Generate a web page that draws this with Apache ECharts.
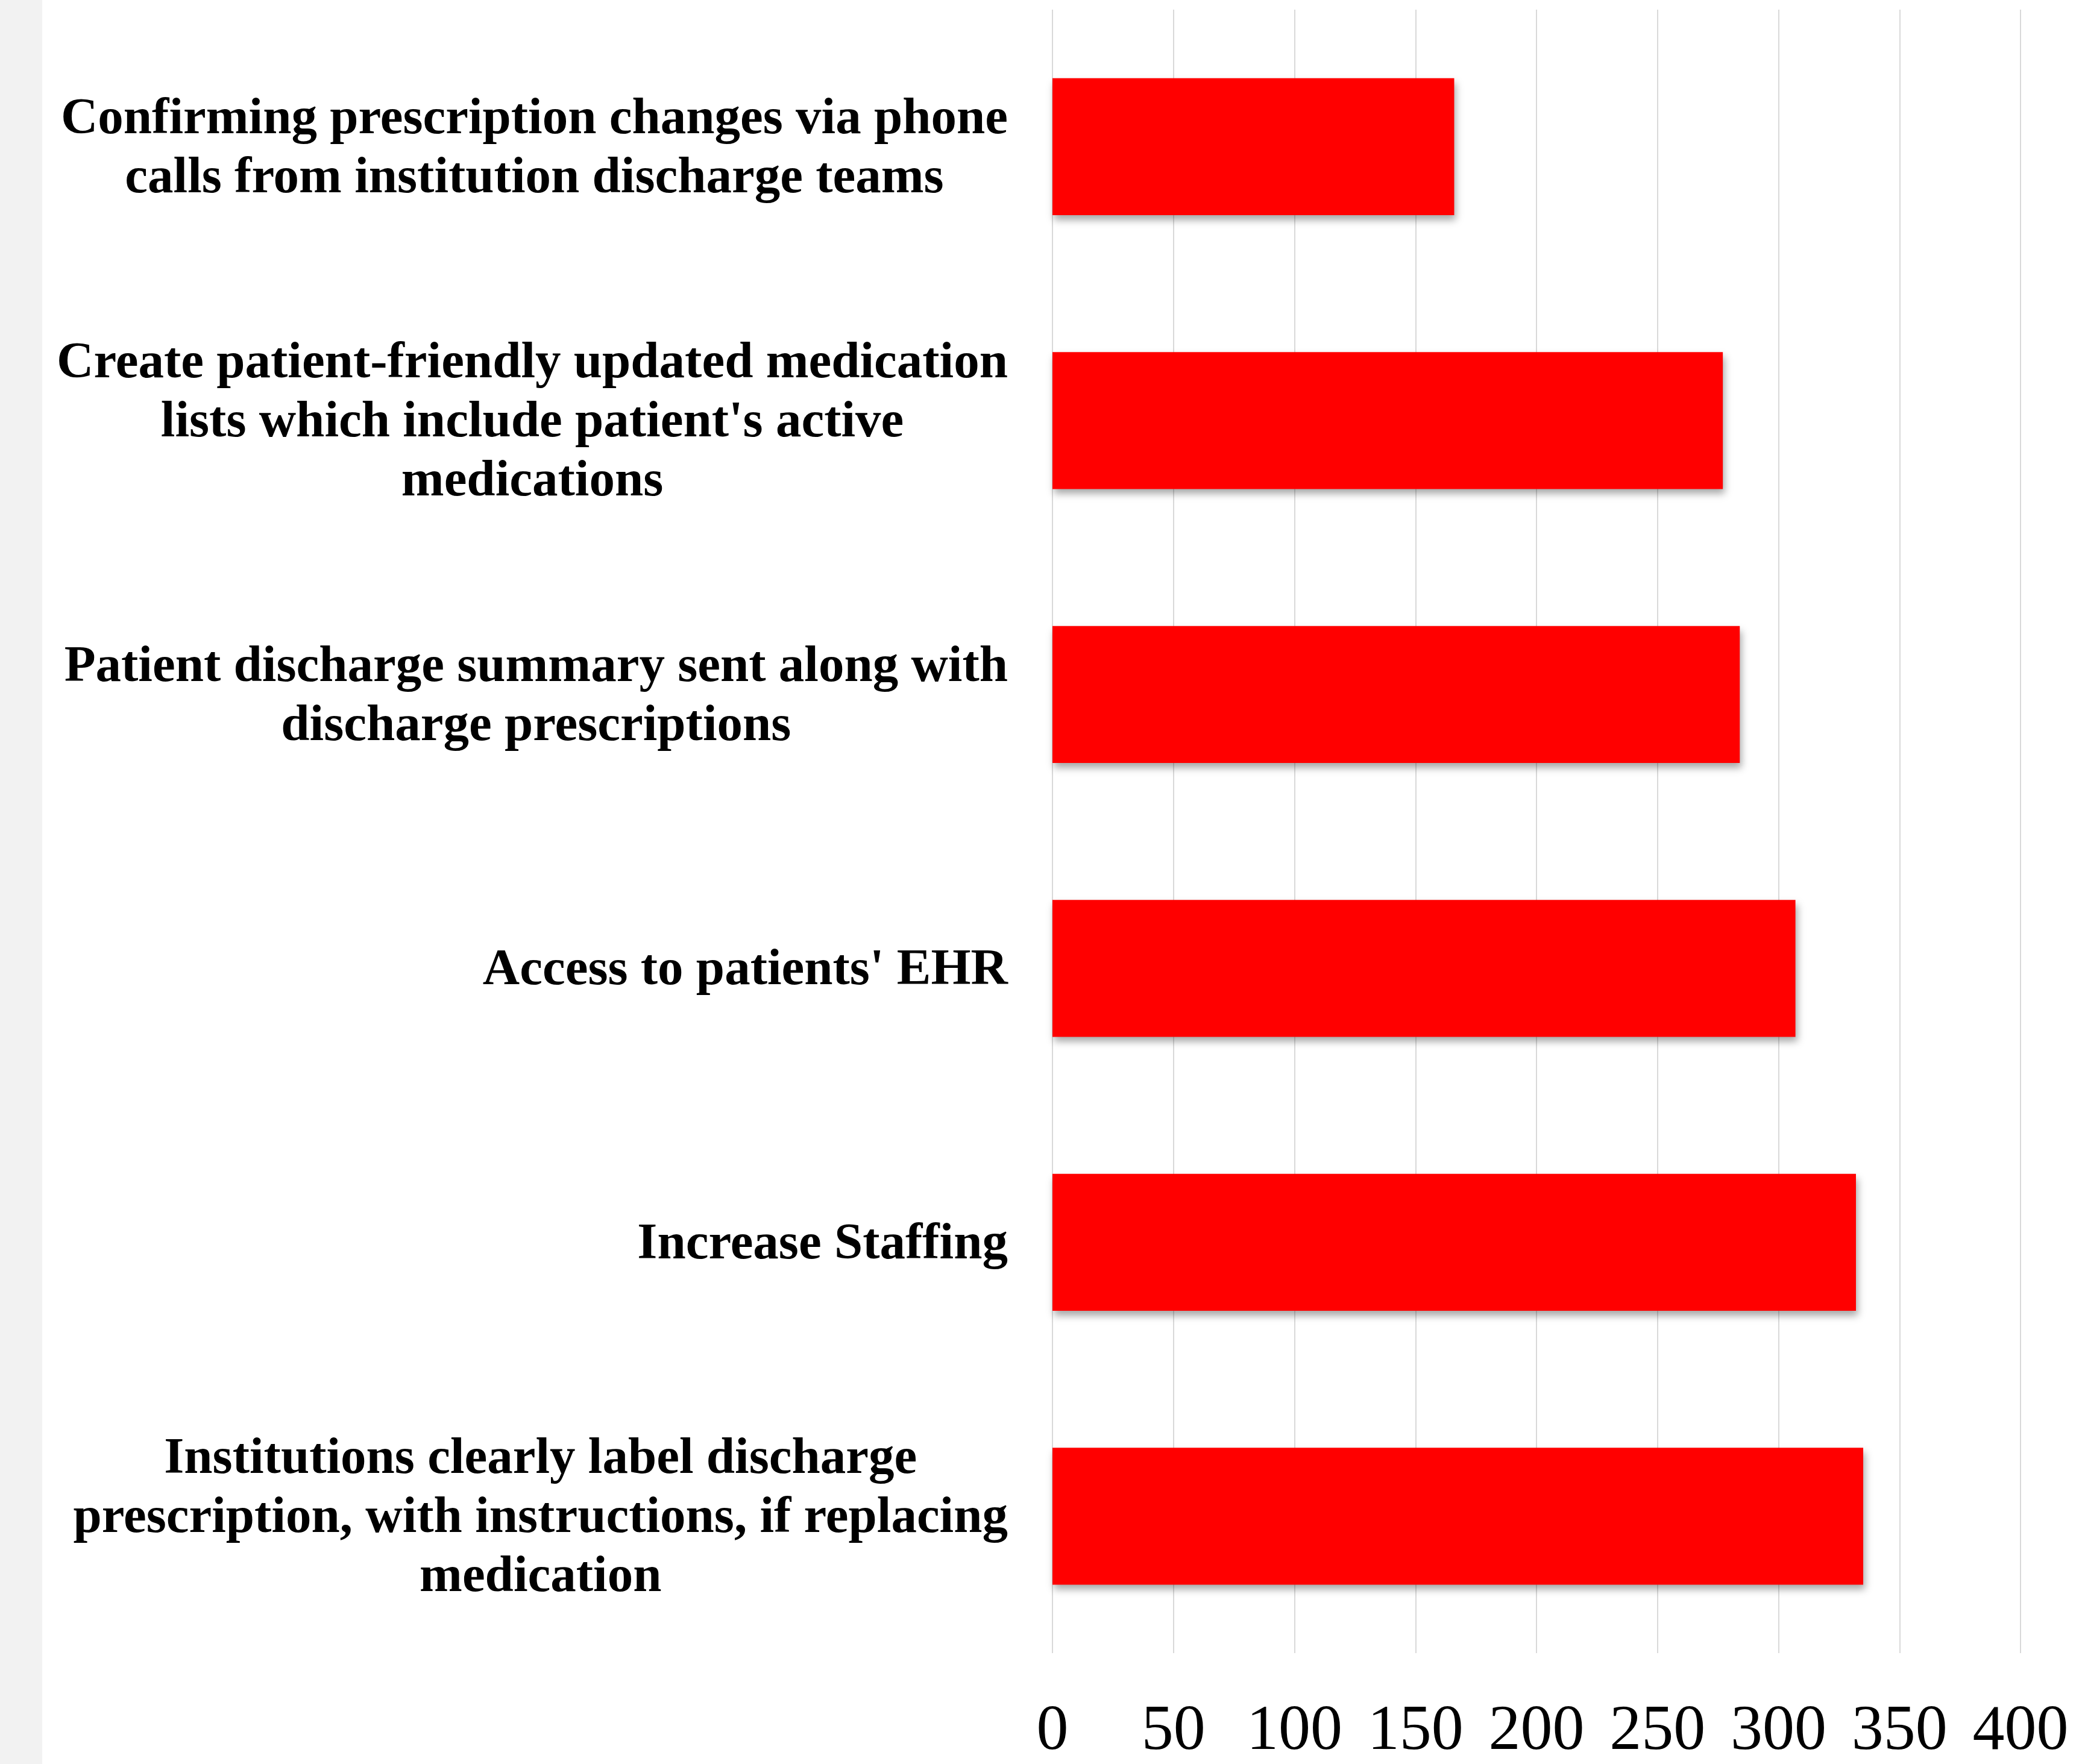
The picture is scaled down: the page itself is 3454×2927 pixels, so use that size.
<!DOCTYPE html>
<html>
<head>
<meta charset="utf-8">
<script src="https://cdn.jsdelivr.net/npm/echarts@6/dist/echarts.min.js"></script>
<style>
html,body{margin:0;padding:0;background:#fff;}
#main{width:3454px;height:2927px;}
</style>
</head>
<body>
<div id="main"></div>
<script>
// categories top to bottom, line breaks as in the picture
var categories = [
    "Confirming prescription changes via phone\ncalls from institution discharge teams",
    "Create patient-friendly updated medication\nlists which include patient's active\nmedications",
    "Patient discharge summary sent along with\ndischarge prescriptions",
    "Access to patients' EHR",
    "Increase Staffing",
    "Institutions clearly label discharge\nprescription, with instructions, if replacing\nmedication"
];
var values = [166, 277, 284, 307, 332, 335];
var xTicks = [0, 50, 100, 150, 200, 250, 300, 350, 400];

var chart = echarts.init(document.getElementById('main'));
var option = {
    backgroundColor: '#fff',
    animation: false,
    graphic: [{
        type: 'rect',
        left: 0, top: 0,
        shape: {width: 70, height: 2927},
        style: {fill: '#f2f2f2'},
        z: -1
    }],
    grid: {
        left: 1746,
        right: 102,
        top: 16,
        bottom: 178,
        containLabel: false
    },
    xAxis: {
        type: 'value',
        min: xTicks[0],
        max: xTicks[xTicks.length - 1],
        interval: 50,
        axisLine: {show: false},
        axisTick: {show: false},
        splitLine: {show: true, lineStyle: {color: '#d9d9d9', width: 2}},
        axisLabel: {
            fontFamily: 'Liberation Serif',
            fontSize: 106,
            color: '#000',
            margin: 78
        }
    },
    yAxis: {
        type: 'category',
        inverse: true,
        data: categories,
        axisLine: {show: false},
        axisTick: {show: false},
        axisLabel: {
            margin: 74,
            formatter: function (v) {
                return v.split('\n').map(function (s) { return '{c|' + s + '}'; }).join('\n');
            },
            rich: {
                c: {
                    align: 'center',
                    fontFamily: 'Liberation Serif',
                    fontWeight: 'bold',
                    fontSize: 85,
                    lineHeight: 98,
                    color: '#000'
                }
            },
            padding: [9, 0, 0, 0]
        }
    },
    series: [{
        type: 'bar',
        data: values,
        barCategoryGap: '50%',
        itemStyle: {
            color: '#ff0000',
            shadowColor: 'rgba(0,0,0,0.35)',
            shadowBlur: 12,
            shadowOffsetX: 3,
            shadowOffsetY: 8
        }
    }]
};
chart.setOption(option);
</script>
</body>
</html>
